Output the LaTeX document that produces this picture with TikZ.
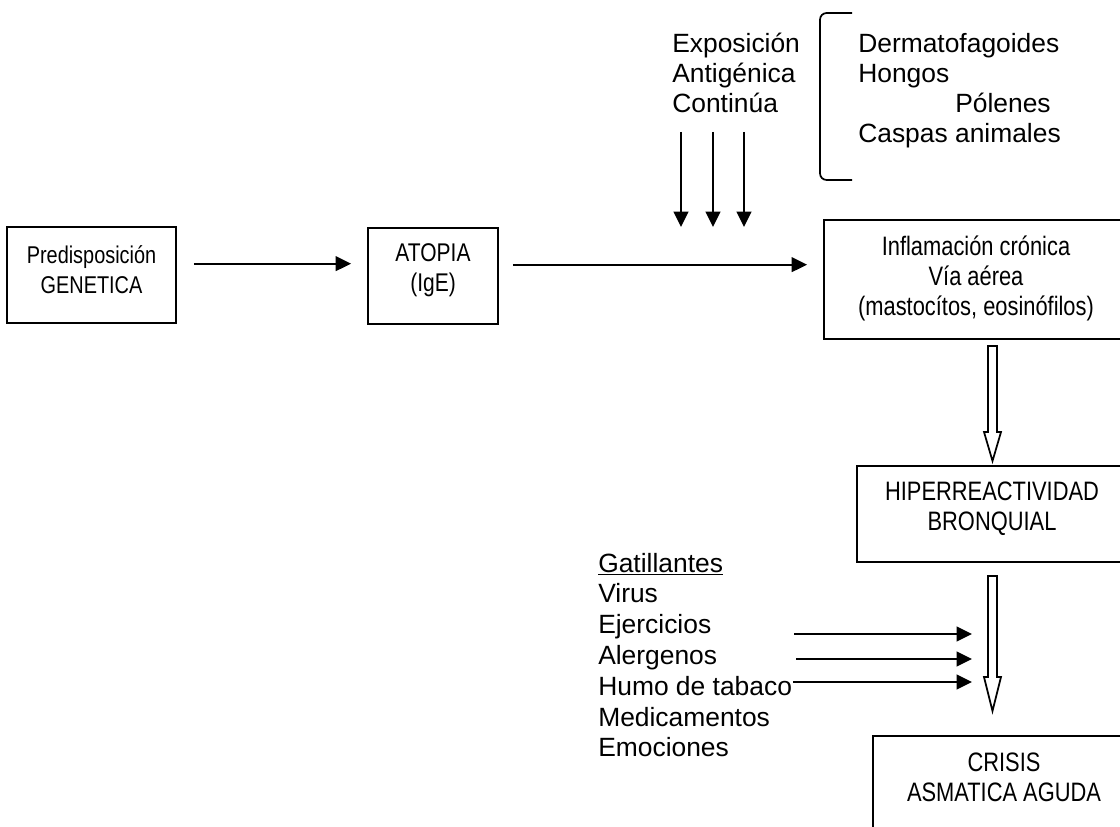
\documentclass[tikz,border=0pt]{standalone}
\usepackage{fontspec}
\setmainfont{Liberation Sans}
\newfontfamily\narrowfont[FakeStretch=0.82]{Liberation Sans}
\usetikzlibrary{arrows.meta}

\tikzset{
	box/.style={draw, line width=1.4pt, inner sep=0pt},
	boxtxt/.style={align=center, inner sep=0pt, yshift=4pt,
		font=\narrowfont\fontsize{20}{22.5}\selectfont},
	lst/.style={anchor=base west, inner sep=0pt, font=\fontsize{19.8}{23}\selectfont},
	arr/.style={-{Triangle[length=11.5pt,width=11pt]}, line width=1.3pt},
	hollow/.style={draw, fill=white, line width=1.3pt, line join=miter},
}

\begin{document}
\begin{tikzpicture}[x=0.75pt,y=-0.75pt]
		\useasboundingbox (0,0) rectangle (1120,827);
		
		% boxes
		\node[box, minimum width=126.75pt, minimum height=72pt] (pre) at (91.5,275) {};
		\node[boxtxt, font=\narrowfont\fontsize{18.2}{22.5}\selectfont] (pretxt) at (pre.center) {Predisposición\\GENETICA};
		\node[box, minimum width=97.5pt, minimum height=72pt] (atopia) at (433,276) {};
		\node[boxtxt, font=\narrowfont\fontsize{19.2}{22.5}\selectfont] (atopiatxt) at (atopia.center) {ATOPIA\\(IgE)};
		\node[box, minimum width=228pt, minimum height=89.25pt] (infl) at (976,279.5) {};
		\node[boxtxt, yshift=-3pt] (infltxt) at (infl.center) {Inflamación crónica\\Vía aérea\\(mastocítos, eosinófilos)};
		\node[box, minimum width=202.5pt, minimum height=72pt] (hiper) at (992,514) {};
		\node[boxtxt] (hipertxt) at (hiper.center) {HIPERREACTIVIDAD\\BRONQUIAL};
		\node[box, minimum width=196.5pt, minimum height=72pt] (crisis) at (1004,784) {};
		\node[boxtxt, yshift=1pt] (crisistxt) at (crisis.center) {CRISIS\\ASMATICA AGUDA};
		
		\draw[arr, shorten <=12.75pt, shorten >=12pt] ([yshift=8.5pt]pre.east) -- ([yshift=8.5pt]pre.east -| atopia.west);
		\draw[arr, shorten <=10.5pt, shorten >=12pt] ([yshift=8.5pt]atopia.east) -- ([yshift=8.5pt]atopia.east -| infl.west);
		
		% exposicion
		\foreach \t [count=\i from 0] in {Exposición, Antigénica, Continúa}{
			\node[lst] (expo\i) at (672, {53+30*\i}) {\t};
		}
		\foreach \x [count=\i] in {681, 713, 744}{
			\coordinate (ea\i) at (\x,132);
			\coordinate (eb\i) at (\x,227);
			\draw[arr] (ea\i) -- (eb\i);
		}
		\draw[line width=1.3pt, rounded corners=5pt] (852,13) -- (820,13) -- (820,180) -- (852,180);
		\node[lst] (derm) at (858,53) {Dermatofagoides};
		\node[lst] (hong) at (858,83) {Hongos};
		\node[lst] (pol) at (955,113) {Pólenes};
		\node[lst] (casp) at (858,143) {Caspas animales};
		
		% hollow arrows
		\draw[hollow] (988,346) -- (997,346) -- (997,432) -- (1001,432) -- (992.5,461) -- (984,432) -- (988,432) -- cycle;
		\draw[hollow] (988,576) -- (997,576) -- (997,677) -- (1001,677) -- (992.5,711) -- (984,677) -- (988,677) -- cycle;
		
		% gatillantes
		\node[lst] (gat) at (598,572) {\underline{Gatillantes}};
		\foreach \t [count=\i] in {Virus, Ejercicios, Alergenos, Humo de tabaco, Medicamentos, Emociones}{
			\node[lst] (gat\i) at (598, {572+30.8*\i}) {\t};
		}
		\foreach \y/\s [count=\i] in {634/794, 659/796, 682/793}{
			\coordinate (ga\i) at (\s,\y);
			\coordinate (gb\i) at (972,\y);
			\draw[arr] (ga\i) -- (gb\i);
		}
\end{tikzpicture}
\end{document}
